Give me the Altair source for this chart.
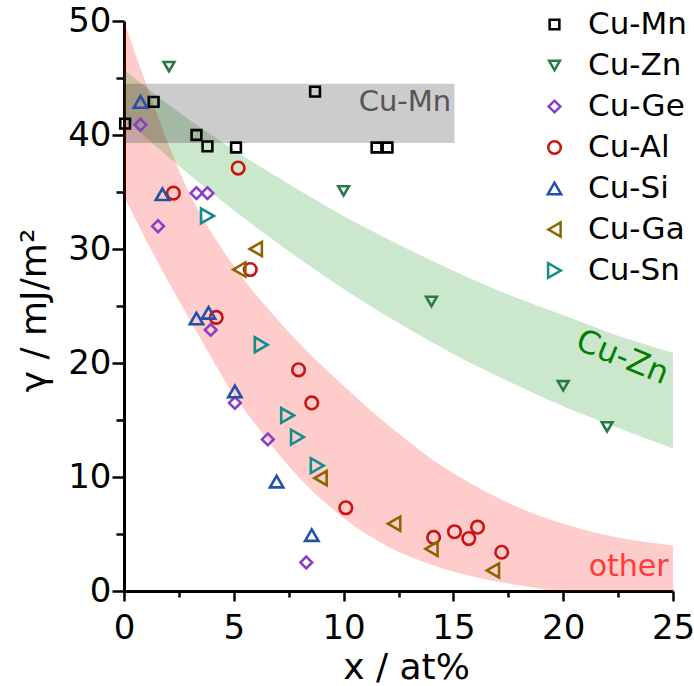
import altair as alt
import pandas as pd

# ---------------- data ----------------
series = ["Cu-Mn", "Cu-Zn", "Cu-Ge", "Cu-Al", "Cu-Si", "Cu-Ga", "Cu-Sn"]
colors = ["#000000", "#2a7a48", "#8b3fc8", "#cc1111", "#2350a8", "#8c6400", "#138c8c"]
shapes = ["square", "triangle-down", "diamond", "circle", "triangle-up", "triangle-left", "triangle-right"]
sizes = [95, 220, 240, 125, 220, 220, 220]

cu_mn_x = [0.05, 1.35, 3.3, 3.8, 5.1, 8.7, 11.5, 12.0]
cu_mn_y = [41.0, 42.9, 40.0, 39.0, 38.9, 43.8, 38.9, 38.9]
cu_zn_x = [2.05, 10.0, 14.0, 20.0, 22.0]
cu_zn_y = [46.0, 35.1, 25.4, 18.0, 14.4]
cu_ge_x = [0.75, 1.55, 3.3, 3.8, 3.95, 5.05, 6.55, 8.3]
cu_ge_y = [40.9, 32.0, 34.9, 34.9, 22.9, 16.5, 13.3, 2.5]
cu_al_x = [2.25, 4.2, 5.2, 5.75, 7.95, 8.55, 10.1, 14.1, 15.05, 15.7, 16.1, 17.2]
cu_al_y = [34.9, 24.0, 37.1, 28.2, 19.4, 16.5, 7.3, 4.7, 5.2, 4.6, 5.6, 3.4]
cu_si_x = [0.75, 1.75, 3.3, 3.85, 5.05, 6.95, 8.55]
cu_si_y = [42.9, 34.8, 23.9, 24.4, 17.5, 9.6, 4.9]
cu_ga_x = [5.25, 6.0, 8.95, 12.3, 14.0, 16.8]
cu_ga_y = [28.2, 30.0, 9.9, 5.9, 3.7, 1.8]
cu_sn_x = [3.8, 6.25, 7.45, 7.9, 8.8]
cu_sn_y = [32.9, 21.6, 15.4, 13.5, 11.0]

# band edges
green_x = [0, 2.5, 5, 7.5, 10, 12.5, 15, 17.5, 20, 22.5, 25]
green_hi = [45.7, 42.0, 38.7, 35.7, 32.9, 30.4, 28.1, 26.0, 24.2, 22.4, 20.9]
green_lo = [41.5, 37.3, 33.4, 29.8, 26.5, 23.5, 20.8, 18.4, 16.2, 14.3, 12.5]

red_x = [0, 1, 2, 3, 4, 5, 6, 7, 8, 10, 12, 14, 16, 18, 20, 22.5, 25]
red_hi = [50.0, 44.5, 39.3, 34.8, 31.4, 28.5, 26.0, 23.8, 21.7, 18.0, 14.6, 11.6, 9.2, 7.3, 5.9, 4.7, 4.0]
red_lo = [34.6, 30.8, 27.2, 23.8, 20.4, 17.2, 14.6, 12.1, 9.9, 6.4, 3.9, 2.3, 1.2, 0.5, 0.0, 0.0, 0.0]

mn_band_x = [0.0, 15.05]
mn_band_y = [39.3, 44.5]

ann_text = ["Cu-Mn", "Cu-Zn", "other"]
ann_x = [14.9, 22.7, 24.8]
ann_y = [42.9, 20.5, 2.1]

# ---------------- tables ----------------
xs = [cu_mn_x, cu_zn_x, cu_ge_x, cu_al_x, cu_si_x, cu_ga_x, cu_sn_x]
ys = [cu_mn_y, cu_zn_y, cu_ge_y, cu_al_y, cu_si_y, cu_ga_y, cu_sn_y]
rows = []
for s, xx, yy in zip(series, xs, ys):
    for a, b in zip(xx, yy):
        rows.append({"alloy": s, "x": a, "y": b})
pts = pd.DataFrame(rows)

green_df = pd.DataFrame({"x": green_x, "lo": green_lo, "hi": green_hi})
red_df = pd.DataFrame({"x": red_x, "lo": red_lo, "hi": red_hi})
mn_df = pd.DataFrame({"x": [mn_band_x[0]], "x2": [mn_band_x[1]], "y": [mn_band_y[0]], "y2": [mn_band_y[1]]})

FONT = "DejaVu Sans"

xscale = alt.Scale(domain=[0, 25], nice=False, zero=False)
yscale = alt.Scale(domain=[0, 50], nice=False)

xaxis = alt.Axis(
    title="x / at%",
    values=[i * 2.5 for i in range(11)],
    labelExpr="datum.value % 5 == 0 ? datum.label : ''",
    tickSize={"condition": {"test": "datum.value % 5 == 0", "value": 10}, "value": 6},
    grid=False, labelFontSize=34, titleFontSize=36, labelFont=FONT, titleFont=FONT,
    titleFontWeight="normal", labelColor="black", titleColor="black",
    domainColor="black", domainWidth=3, tickColor="black", tickWidth=2.5,
    labelPadding=10, labelFlush=False, labelOverlap=False,
    titleX=282, titleY=76, titleBaseline="middle",
)
yaxis = alt.Axis(
    title="γ / mJ/m²",
    values=[i * 5 for i in range(11)],
    labelExpr="datum.value % 10 == 0 ? datum.label : ''",
    tickSize={"condition": {"test": "datum.value % 10 == 0", "value": 12}, "value": 8},
    grid=False, labelFontSize=34, titleFontSize=36, labelFont=FONT, titleFont=FONT,
    titleFontWeight="normal", labelColor="black", titleColor="black",
    domainColor="black", domainWidth=3, tickColor="black", tickWidth=2.5,
    labelPadding=1, labelFlush=False, labelOverlap=False,
    titleX=-90, titleY=289, titleBaseline="middle",
)

red_band = alt.Chart(red_df).mark_area(color="#ff0000", opacity=0.2, interpolate="monotone").encode(
    x=alt.X("x:Q", scale=xscale, axis=xaxis),
    y=alt.Y("hi:Q", scale=yscale, axis=yaxis),
    y2="lo:Q",
)
green_band = alt.Chart(green_df).mark_area(color="#008c00", opacity=0.2, interpolate="monotone").encode(
    x=alt.X("x:Q", scale=xscale),
    y=alt.Y("hi:Q", scale=yscale),
    y2="lo:Q",
)
mn_band = alt.Chart(mn_df).mark_rect(color="#000000", opacity=0.2).encode(
    x=alt.X("x:Q", scale=xscale), x2="x2:Q",
    y=alt.Y("y:Q", scale=yscale), y2="y2:Q",
)

t_mn = alt.Chart(pd.DataFrame({"t": [ann_text[0]], "x": [ann_x[0]], "y": [ann_y[0]]})).mark_text(
    font=FONT, fontSize=29, color="#555555", align="right", baseline="middle").encode(
    x=alt.X("x:Q", scale=xscale), y=alt.Y("y:Q", scale=yscale), text="t:N")
t_zn = alt.Chart(pd.DataFrame({"t": [ann_text[1]], "x": [ann_x[1]], "y": [ann_y[1]]})).mark_text(
    font=FONT, fontSize=32, color="#008000", align="center", baseline="middle", angle=22).encode(
    x=alt.X("x:Q", scale=xscale), y=alt.Y("y:Q", scale=yscale), text="t:N")
t_other = alt.Chart(pd.DataFrame({"t": [ann_text[2]], "x": [ann_x[2]], "y": [ann_y[2]]})).mark_text(
    font=FONT, fontSize=30, color="#ff3b3b", align="right", baseline="middle").encode(
    x=alt.X("x:Q", scale=xscale), y=alt.Y("y:Q", scale=yscale), text="t:N")

leg = alt.Legend(
    title=None, orient="none", legendX=415, legendY=-12, padding=0,
    labelFont=FONT, labelFontSize=31, labelColor="black", labelOffset=18,
    rowPadding=9, symbolStrokeWidth=2.5, symbolFillColor="transparent",
)
points = alt.Chart(pts).mark_point(filled=False, strokeWidth=2.6, opacity=1).encode(
    x=alt.X("x:Q", scale=xscale),
    y=alt.Y("y:Q", scale=yscale),
    color=alt.Color("alloy:N", scale=alt.Scale(domain=series, range=colors), legend=leg),
    shape=alt.Shape("alloy:N", scale=alt.Scale(domain=series, range=shapes), legend=leg),
    size=alt.Size("alloy:N", scale=alt.Scale(domain=series, range=sizes), legend=leg),
)

chart = alt.layer(red_band, green_band, mn_band, t_mn, t_zn, t_other, points).properties(
    width=549, height=570,
    autosize=alt.AutoSizeParams(type="none"),
    padding={"left": 124, "top": 21, "right": 21, "bottom": 95},
    background="white",
).configure_view(stroke=None)

chart.save("out.html", embed_options={"renderer": "svg", "actions": False})
